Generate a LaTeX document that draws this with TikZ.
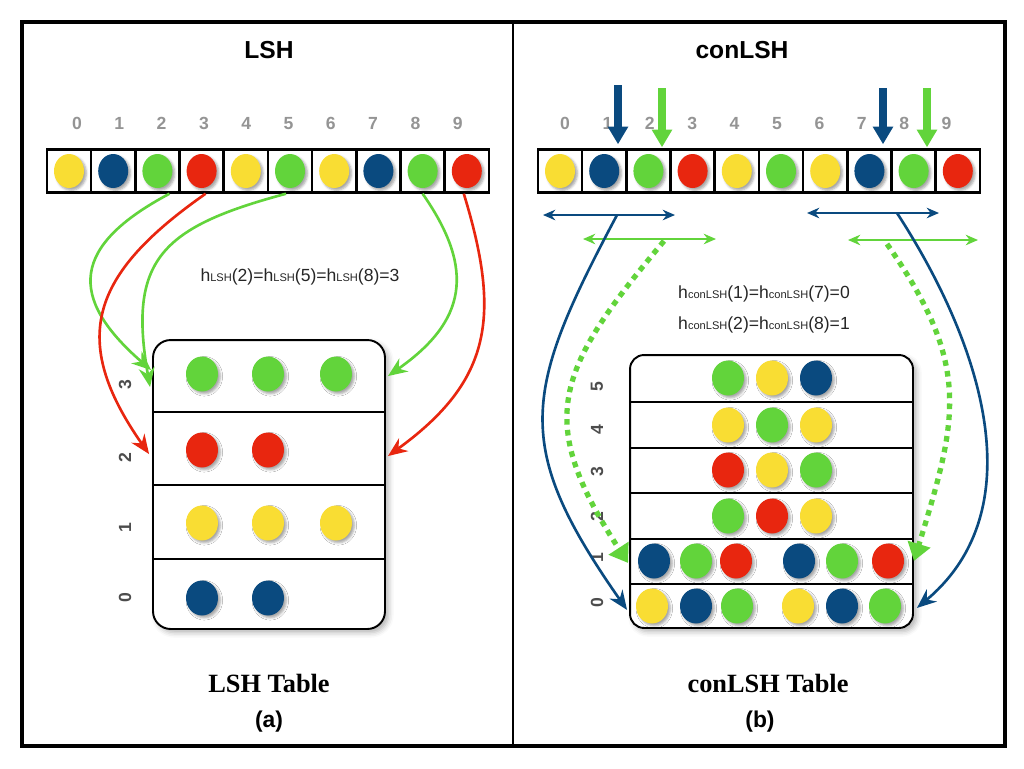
\documentclass[tikz,border=0pt]{standalone}
\usepackage{fontspec}
\setmainfont{Liberation Serif}
\setsansfont{Liberation Sans}
\usepackage{tikz}
\usetikzlibrary{calc, arrows.meta, shadows.blur}

\definecolor{ylw}{HTML}{F9DD33}
\definecolor{blu}{HTML}{0A4A7F}
\definecolor{grn}{HTML}{62D43B}
\definecolor{rd}{HTML}{E8260F}

\newcommand{\hs}[1]{h{\fontsize{6.3}{7}\selectfont #1}}

\begin{document}
\begin{tikzpicture}[x=0.02cm, y=-0.02cm, font=\sffamily,
	cell/.style={draw, line width=1.4pt, minimum width=0.884cm, minimum height=0.86cm, inner sep=0pt},
	ball/.style={blur shadow={shadow xshift=1.3pt, shadow yshift=-1.3pt, shadow blur radius=1.3pt, shadow opacity=35}},
	idx/.style={anchor=base, text=black!42, font=\sffamily\bfseries\fontsize{10}{12}\selectfont},
	rowlab/.style={rotate=90, text=black!70, font=\sffamily\bfseries\fontsize{10}{12}\selectfont},
	tab/.style={draw, line width=1.1pt, fill=white, blur shadow={shadow xshift=2pt, shadow yshift=-2pt, shadow blur radius=3pt, shadow opacity=30}},
	sep/.style={line width=1.6pt},
	link/.style={line width=1.5pt, -{Stealth[length=11pt, width=9pt]}},
	dots/.style={line width=3pt, dash pattern=on 3.2pt off 3pt, -{Triangle[length=10pt, width=13pt]}},
	dbl/.style={line width=1.1pt, {Stealth[length=7pt, width=6pt]}-{Stealth[length=7pt, width=6pt]}},
	big/.style={line width=4.3pt, -{Triangle[length=10pt, width=11pt]}},
	ttl/.style={font=\sffamily\bfseries\fontsize{14}{16}\selectfont},
	fml/.style={text=black!85, font=\sffamily\fontsize{10}{12}\selectfont},
	captxt/.style={font=\rmfamily\bfseries\fontsize{15}{18}\selectfont},
	subtxt/.style={font=\sffamily\bfseries\fontsize{13}{15}\selectfont}]
	\useasboundingbox (0,0) rectangle (1024,768);
	
	% frame
	\draw[line width=1.8pt] (22,22) rectangle (1005,746);
	\draw[line width=1.2pt] (513,22) -- (513,746);
	
	\node[ttl] (tl) at (269,50) {LSH};
	\node[ttl] (tr) at (742,50) {conLSH};
	
	% arrays
	\foreach \c [count=\i from 0] in {ylw,blu,grn,rd,ylw,grn,ylw,blu,grn,rd} {
		\node[cell] (l\i) at ({69+44.2*\i},171) {};
		\fill[\c, ball] (l\i.center) ellipse [x radius=0.3cm, y radius=0.34cm];
		\node[idx] (li\i) at ({77+42.3*\i},129) {\i};
		\node[cell] (d\i) at ({560+44.2*\i},171) {};
		\fill[\c, ball] (d\i.center) ellipse [x radius=0.3cm, y radius=0.34cm];
		\node[idx] (di\i) at ({565+42.4*\i},129) {\i};
	}
	
	% LSH table
	\node[tab, rounded corners=10pt, minimum width=4.64cm, minimum height=5.78cm] (lt) at (269,484.5) {};
	\foreach \y in {412,485,559}
		\draw[sep] (lt.west |- 0,\y) -- (lt.east |- 0,\y);
	\foreach \c/\x/\y in {grn/202/374, grn/268/374, grn/336/374, rd/202/450, rd/268/450,
		ylw/202/523, ylw/268/523, ylw/336/523, blu/202/598, blu/268/598}
		\fill[\c, ball] (\x,\y) ellipse [x radius=0.32cm, y radius=0.35cm];
	\foreach \n/\y in {3/385, 2/458, 1/528, 0/598}
		\node[rowlab] (lr\n) at (125,\y) {\n};
	
	% conLSH table
	\node[tab, rounded corners=8pt, minimum width=5.66cm, minimum height=5.46cm] (rt) at (771.5,491.5) {};
	\foreach \y in {402,448,493,539,584}
		\draw[sep] (rt.west |- 0,\y) -- (rt.east |- 0,\y);
	\foreach \c/\x/\y in {grn/728/378, ylw/772/378, blu/816/378,
		ylw/728/425, grn/772/425, ylw/816/425,
		rd/728/470, ylw/772/470, grn/816/470,
		grn/728/516, rd/772/516, ylw/816/516,
		blu/654/561, grn/696/561, rd/736/561, blu/799/561, grn/842/561, rd/888/561,
		ylw/652/606, blu/696/606, grn/737/606, ylw/798/606, blu/842/606, grn/885/606}
		\fill[\c, ball] (\x,\y) ellipse [x radius=0.32cm, y radius=0.35cm];
	\foreach \n/\y in {5/387, 4/430, 3/472, 2/517, 1/558, 0/603}
		\node[rowlab] (rr\n) at (597,\y) {\n};
	
	% LSH hashing
	\draw[link, grn] ($(l2.south)+(12,0)$) to[out=208, in=139, looseness=1.6] ($(lt.north west)+(-1,31)$);
	\draw[link, rd] ($(l3.south)+(4,0)$) to[out=215, in=125, looseness=1.35] ($(lt.north west)+(-3,115)$);
	\draw[link, grn] ($(l5.south)+(-4,0)$) to[out=195, in=100, looseness=1.4] ($(lt.north west)+(-2,48)$);
	\draw[link, grn] (l8.south) to[out=305, in=35, looseness=1.3] ($(lt.north east)+(2,37)$);
	\draw[link, rd] ($(l9.south)+(-3,0)$) to[out=287, in=36, looseness=1.2] ($(lt.north east)+(2,117)$);
	\node[fml] (fl) at (300,277) {\hs{LSH}(2)=\hs{LSH}(5)=\hs{LSH}(8)=3};
	
	% conLSH hashing
	\coordinate (a1) at (618,85);
	\coordinate (a2) at (662,88);
	\coordinate (a3) at (883,88);
	\coordinate (a4) at (927,88);
	\draw[big, blu] (a1) -- ($(a1 |- d1.north)+(0,-4)$);
	\draw[big, grn] (a2) -- ($(a2 |- d2.north)+(0,-1)$);
	\draw[big, blu] (a3) -- ($(a3 |- d7.north)+(0,-4)$);
	\draw[big, grn] (a4) -- ($(a4 |- d8.north)+(0,-1)$);
	
	\draw[dbl, blu] (543,215) coordinate (w1) -- (675,215) coordinate (e1);
	\draw[dbl, grn] (583,239) coordinate (w2) -- (716,239) coordinate (e2);
	\draw[dbl, blu] (807,213) coordinate (w3) -- (939,213) coordinate (e3);
	\draw[dbl, grn] (848,240) coordinate (w4) -- (978,240) coordinate (e4);
	\coordinate (p1) at (617,215);
	\coordinate (p2) at (664,241);
	\coordinate (p3) at (897,213);
	\coordinate (p4) at (887,244);
	
	\draw[link, blu] (p1) to[out=242, in=125, looseness=1.3] ($(rt.south west)+(-2,-19)$);
	\draw[dots, grn] (p2) to[out=230, in=123, looseness=1.35] ($(rt.south west)+(-1,-66)$);
	\draw[link, blu] (p3) to[out=303, in=40] ($(rt.south east)+(3,-21)$);
	\draw[dots, grn] (p4) to[out=305, in=73, looseness=1.2] ($(rt.south east)+(0,-68)$);
	\node[fml] (fr1) at (764,294) {\hs{conLSH}(1)=\hs{conLSH}(7)=0};
	\node[fml] (fr2) at (764,325) {\hs{conLSH}(2)=\hs{conLSH}(8)=1};
	
	% captions
	\node[captxt] (cl) at (269,683) {LSH Table};
	\node[subtxt] (sl) at (269,722) {(a)};
	\node[captxt] (cr) at (768,683) {conLSH Table};
	\node[subtxt] (sr) at (760,722) {(b)};
\end{tikzpicture}
\end{document}
